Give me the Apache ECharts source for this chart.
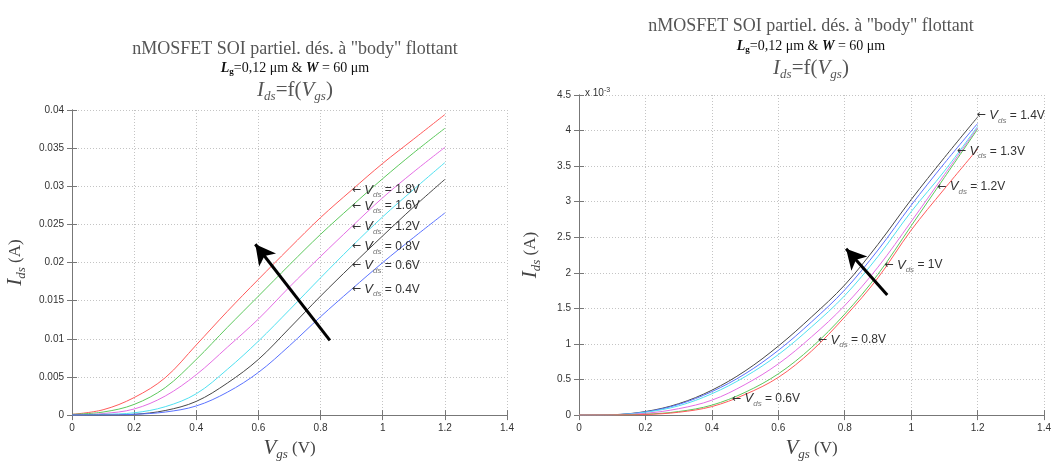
<!DOCTYPE html>
<html>
<head>
<meta charset="utf-8">
<script src="https://cdn.jsdelivr.net/npm/echarts@6/dist/echarts.min.js"></script>
<style>
html,body{margin:0;padding:0;background:#fff}
#main{width:1054px;height:466px}
</style>
</head>
<body>
<div id="main"></div>
<script>
// Vgs (V), shared by both charts
var vgs = [0, 0.1, 0.2, 0.3, 0.4, 0.5, 0.6, 0.7, 0.8, 0.9, 1.0, 1.1, 1.2];

// left chart : Ids (A) for several Vds
var leftLabels = ['1.8V', '1.6V', '1.2V', '0.8V', '0.6V', '0.4V'];
var leftColors = ['#ff5a5a', '#5cc85c', '#e46ee4', '#4fe0f0', '#474747', '#5a72ff'];
var idsL18 = [0.0001, 0.0007, 0.0023, 0.0049, 0.0092, 0.0136, 0.0178, 0.0219, 0.0259, 0.0295, 0.0330, 0.0362, 0.0394];
var idsL16 = [0.0001, 0.0004, 0.0014, 0.0036, 0.0073, 0.0115, 0.0156, 0.0197, 0.0237, 0.0274, 0.0310, 0.0344, 0.0376];
var idsL12 = [0.0000, 0.0002, 0.0008, 0.0025, 0.0053, 0.0089, 0.0126, 0.0168, 0.0208, 0.0247, 0.0285, 0.0319, 0.0351];
var idsL08 = [0.0000, 0.0001, 0.0003, 0.0011, 0.0028, 0.0060, 0.0097, 0.0138, 0.0180, 0.0221, 0.0260, 0.0296, 0.0331];
var idsL06 = [0.0000, 0.0000, 0.0001, 0.0006, 0.0018, 0.0042, 0.0073, 0.0114, 0.0156, 0.0196, 0.0235, 0.0273, 0.0309];
var idsL04 = [0.0000, 0.0000, 0.0001, 0.0004, 0.0012, 0.0030, 0.0056, 0.0091, 0.0129, 0.0165, 0.0200, 0.0233, 0.0265];
var leftSeries = [idsL18, idsL16, idsL12, idsL08, idsL06, idsL04];
var leftLabelVgs = 0.9;
var leftArrow = [[0.83, 0.0098], [0.59, 0.0224]];

// right chart : Ids (x 10^-3 A)
var rightLabels = ['1.4V', '1.3V', '1.2V', '1V', '0.8V', '0.6V'];
var rightColors = ['#474747', '#5a72ff', '#4fe0f0', '#e46ee4', '#5cc85c', '#ff5a5a'];
var idsR14 = [0, 0.005, 0.050, 0.16, 0.35, 0.62, 0.97, 1.38, 1.83, 2.40, 3.03, 3.62, 4.19];
var idsR13 = [0, 0.005, 0.045, 0.15, 0.33, 0.58, 0.91, 1.31, 1.76, 2.32, 2.95, 3.54, 4.10];
var idsR12 = [0, 0.004, 0.040, 0.13, 0.30, 0.54, 0.85, 1.24, 1.68, 2.23, 2.86, 3.43, 4.06];
var idsR10 = [0, 0.003, 0.025, 0.09, 0.21, 0.43, 0.72, 1.10, 1.54, 2.08, 2.72, 3.38, 4.04];
var idsR08 = [0, 0.002, 0.012, 0.05, 0.14, 0.32, 0.58, 0.95, 1.42, 1.98, 2.66, 3.34, 4.02];
var idsR06 = [0, 0.001, 0.008, 0.04, 0.12, 0.29, 0.53, 0.90, 1.38, 1.93, 2.60, 3.18, 3.74];
var rightSeries = [idsR14, idsR13, idsR12, idsR10, idsR08, idsR06];
var rightLabelVgs = [1.197, 1.137, 1.078, 0.919, 0.719, 0.46];
var rightLabelIds = [4.21, 3.71, 3.21, 2.11, 1.055, 0.23];
var rightArrow = [[0.928, 1.69], [0.804, 2.34]];

var serif = 'Liberation Serif';
var sans = 'Liberation Sans';

function annoText(txt) {
	return '{a|\u2190 }{v|V}{s|ds}{t| = ' + txt + '}';
}
var annoRich = {
	a: {fontFamily: 'DejaVu Sans', fontSize: 11, color: '#333'},
	v: {fontFamily: sans, fontSize: 13, fontStyle: 'italic', color: '#333'},
	s: {fontFamily: sans, fontSize: 8, fontStyle: 'italic', color: '#777', padding: [10, 0, 0, 0]},
	t: {fontFamily: sans, fontSize: 12, color: '#333'}
};
var nameRich = {
	i: {fontFamily: serif, fontSize: 21, fontStyle: 'italic', color: '#444'},
	s: {fontFamily: serif, fontSize: 13, fontStyle: 'italic', color: '#444', padding: [12, 0, 0, 0]},
	n: {fontFamily: serif, fontSize: 17, color: '#444'}
};

function titleSet(cx, top1, top2, top3) {
	return [
		{text: 'nMOSFET SOI partiel. dés. à "body" flottant', left: cx, top: top1, textAlign: 'center',
			textStyle: {fontFamily: serif, fontSize: 18, fontWeight: 'normal', color: '#555'}},
		{text: '{i|L}{s|g}{n|=0,12 μm & }{i|W}{n| = 60 μm}', left: cx, top: top2, textAlign: 'center',
			textStyle: {fontWeight: 'normal', rich: {
				i: {fontFamily: serif, fontSize: 14, fontStyle: 'italic', fontWeight: 'bold', color: '#111'},
				s: {fontFamily: serif, fontSize: 9, fontWeight: 'bold', color: '#111', padding: [6, 0, 0, 0]},
				n: {fontFamily: serif, fontSize: 14, fontWeight: 'normal', color: '#111'}
			}}},
		{text: '{i|I}{s|ds}{n|=f(}{i|V}{s|gs}{n|)}', left: cx, top: top3, textAlign: 'center',
			textStyle: {fontWeight: 'normal', rich: {
				i: {fontFamily: serif, fontSize: 21, fontStyle: 'italic', fontWeight: 'normal', color: '#555'},
				s: {fontFamily: serif, fontSize: 13, fontStyle: 'italic', fontWeight: 'normal', color: '#555', padding: [12, 0, 0, 0]},
				n: {fontFamily: serif, fontSize: 21, fontWeight: 'normal', color: '#555'}
			}}}
	];
}

var tickLabel = {fontFamily: sans, fontSize: 10, color: '#333'};
var axisLine = {lineStyle: {color: '#777', width: 1}};
var grid = {lineStyle: {color: '#c4c4c4', type: [1, 2], width: 1}};

function mainX(gi, gap) {
	return {type: 'value', gridIndex: gi, min: 0, max: 1.4, interval: 0.2,
		axisLine: axisLine, axisTick: {inside: true, length: 5, lineStyle: {color: '#777'}},
		axisLabel: tickLabel, splitLine: grid,
		name: '{i|V}{s|gs}{n| (V)}', nameLocation: 'middle', nameGap: gap, nameTextStyle: {rich: nameRich}};
}
function mirrorX(gi) {
	return {type: 'value', gridIndex: gi, position: 'top', min: 0, max: 1.4, interval: 0.2,
		axisLine: axisLine, axisTick: {inside: true, length: 5, lineStyle: {color: '#777'}},
		axisLabel: {show: false}, splitLine: {show: false}};
}
function mainY(gi, max, interval, gap) {
	return {type: 'value', gridIndex: gi, min: 0, max: max, interval: interval,
		axisLine: axisLine, axisTick: {inside: true, length: 5, lineStyle: {color: '#777'}},
		axisLabel: tickLabel, splitLine: grid,
		name: '{i|I}{s|ds}{n| (A)}', nameLocation: 'middle', nameGap: gap, nameTextStyle: {rich: nameRich}};
}
function mirrorY(gi, max, interval) {
	return {type: 'value', gridIndex: gi, position: 'right', min: 0, max: max, interval: interval,
		axisLine: axisLine, axisTick: {inside: true, length: 5, lineStyle: {color: '#777'}},
		axisLabel: {show: false}, splitLine: {show: false}};
}

var series = [];
leftSeries.forEach(function (arr, k) {
	series.push({
		type: 'line', xAxisIndex: 0, yAxisIndex: 0, smooth: 0.35, showSymbol: false,
		data: vgs.map(function (v, i) { return [v, arr[i]]; }),
		lineStyle: {color: leftColors[k], width: 1}, itemStyle: {color: leftColors[k]},
		markPoint: {symbol: 'circle', symbolSize: 0, silent: true,
			data: [{coord: [leftLabelVgs, arr[9]],
				label: {show: true, position: 'right', distance: 0, formatter: annoText(leftLabels[k]), rich: annoRich}}]}
	});
});
rightSeries.forEach(function (arr, k) {
	series.push({
		type: 'line', xAxisIndex: 2, yAxisIndex: 2, smooth: 0.35, showSymbol: false,
		data: vgs.map(function (v, i) { return [v, arr[i]]; }),
		lineStyle: {color: rightColors[k], width: 1}, itemStyle: {color: rightColors[k]},
		markPoint: {symbol: 'circle', symbolSize: 0, silent: true,
			data: [{coord: [rightLabelVgs[k], rightLabelIds[k]],
				label: {show: true, position: 'right', distance: 0, formatter: annoText(rightLabels[k]), rich: annoRich}}]}
	});
});
// big arrows
series.push({type: 'line', xAxisIndex: 0, yAxisIndex: 0, data: [],
	markLine: {silent: true, symbol: ['none', 'arrow'], symbolSize: [16, 20],
		lineStyle: {color: '#000', width: 3, type: 'solid'}, label: {show: false},
		data: [[{coord: leftArrow[0]}, {coord: leftArrow[1]}]]}});
series.push({type: 'line', xAxisIndex: 2, yAxisIndex: 2, data: [],
	markLine: {silent: true, symbol: ['none', 'arrow'], symbolSize: [16, 20],
		lineStyle: {color: '#000', width: 3, type: 'solid'}, label: {show: false},
		data: [[{coord: rightArrow[0]}, {coord: rightArrow[1]}]]}});

var titles = titleSet(290, 35, 56, 73).concat(titleSet(806, 12, 34, 51));
titles.push({text: 'x 10{e|-3}', left: 580, top: 82,
	textStyle: {fontFamily: sans, fontSize: 10, fontWeight: 'normal', color: '#333',
		rich: {e: {fontFamily: sans, fontSize: 7, color: '#333', padding: [0, 0, 6, 0]}}}});

var myChart = echarts.init(document.getElementById('main'));
var option = {
	animation: false,
	backgroundColor: '#fff',
	title: titles,
	grid: [
		{left: 72, top: 110, width: 435, height: 311},
		{left: 579, top: 95, width: 469, height: 334}
	],
	xAxis: [mainX(0, 19), mirrorX(0), mainX(1, 20), mirrorX(1)],
	yAxis: [mainY(0, 0.04, 0.005, 44), mirrorY(0, 0.04, 0.005), mainY(1, 4.5, 0.5, 36), mirrorY(1, 4.5, 0.5)],
	series: series
};
myChart.setOption(option);
</script>
</body>
</html>
